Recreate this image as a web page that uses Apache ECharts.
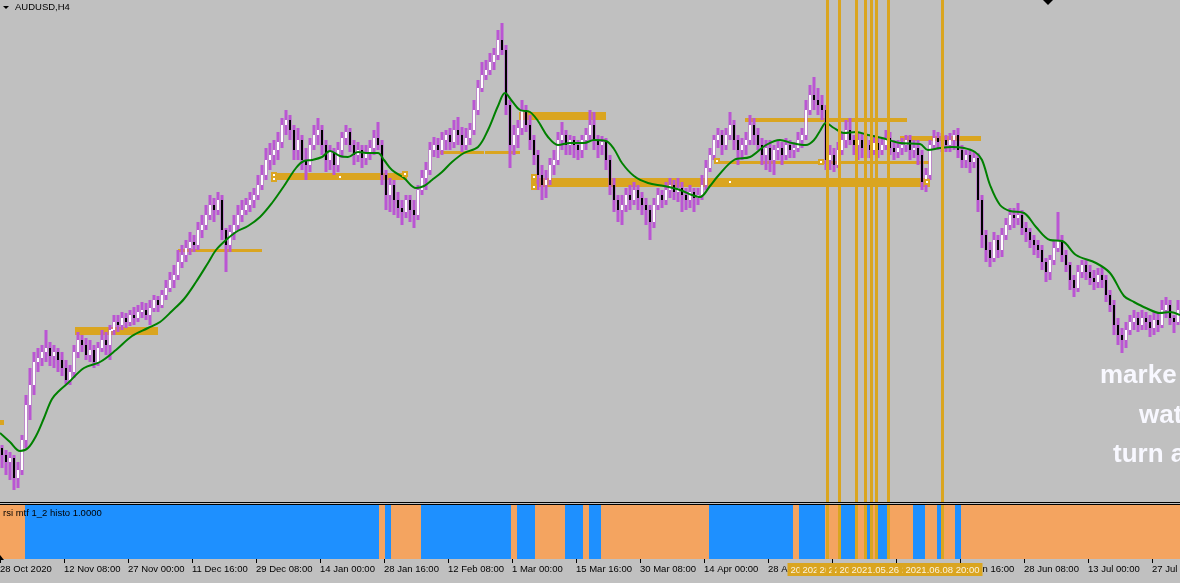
<!DOCTYPE html>
<html><head><meta charset="utf-8">
<script src="https://cdn.jsdelivr.net/npm/echarts/dist/echarts.min.js"></script>
<style>html,body{margin:0;padding:0;background:#C0C0C0;overflow:hidden;}#c{width:1180px;height:583px;}</style>
</head><body><div id="c"></div>
<script>
// time axis labels, one every 64 H4 bars
const tickLabels = ["28 Oct 2020","12 Nov 08:00","27 Nov 00:00","11 Dec 16:00","29 Dec 08:00","14 Jan 00:00","28 Jan 16:00","12 Feb 08:00","1 Mar 00:00","15 Mar 16:00","30 Mar 08:00","14 Apr 00:00","28 Apr 16:00","13 May 08:00","28 May 00:00","11 Jun 16:00","28 Jun 08:00","13 Jul 00:00","27 Jul 16:00"];
const BARS_PER_LABEL = 64;

// AUDUSD candles, each = 4 H4 bars: [open, close, low, high] in 1/10000
const candles = [
[7104,7090,7064,7110],[7090,7076,7050,7100],[7076,7084,7040,7096],[7084,7044,7020,7090],[7044,7060,7024,7076],
[7060,7120,7050,7130],[7120,7190,7104,7210],[7190,7230,7160,7264],[7230,7276,7210,7296],[7276,7284,7256,7304],
[7284,7296,7268,7310],[7296,7304,7276,7340],[7304,7288,7268,7316],[7288,7296,7264,7310],[7296,7280,7256,7304],
[7280,7264,7248,7296],[7264,7240,7232,7280],[7240,7256,7230,7270],[7256,7296,7244,7310],[7296,7320,7284,7336],
[7320,7310,7296,7330],[7310,7290,7280,7324],[7290,7300,7276,7320],[7300,7276,7264,7310],[7276,7304,7268,7316],
[7304,7320,7296,7340],[7320,7310,7290,7336],[7310,7340,7280,7350],[7340,7356,7330,7370],[7356,7350,7336,7370],
[7350,7364,7340,7376],[7364,7356,7344,7374],[7356,7370,7348,7380],[7370,7364,7350,7386],[7364,7376,7356,7390],
[7376,7380,7364,7396],[7380,7370,7360,7394],[7370,7384,7350,7400],[7384,7400,7376,7410],[7400,7390,7376,7408],
[7390,7410,7384,7420],[7410,7424,7400,7440],[7424,7440,7416,7456],[7440,7450,7424,7470],[7450,7476,7440,7500],
[7476,7490,7464,7510],[7490,7504,7476,7520],[7504,7516,7490,7536],[7516,7510,7496,7530],[7510,7540,7500,7556],
[7540,7550,7524,7570],[7550,7570,7540,7590],[7570,7590,7560,7610],[7590,7580,7556,7604],[7580,7600,7570,7616],
[7600,7540,7520,7610],[7540,7510,7456,7544],[7510,7536,7496,7550],[7536,7550,7520,7570],[7550,7570,7540,7590],
[7570,7580,7556,7600],[7580,7590,7570,7604],[7590,7600,7576,7616],[7600,7610,7584,7624],[7610,7630,7600,7650],
[7630,7650,7620,7670],[7650,7680,7640,7704],[7680,7690,7660,7714],[7690,7700,7670,7720],[7700,7716,7680,7736],
[7716,7750,7704,7764],[7750,7760,7730,7780],[7760,7740,7720,7770],[7740,7700,7680,7750],[7700,7720,7680,7744],
[7720,7680,7660,7730],[7680,7670,7640,7704],[7670,7710,7656,7724],[7710,7730,7700,7750],[7730,7740,7710,7764],
[7740,7710,7690,7750],[7710,7680,7656,7720],[7680,7696,7660,7710],[7696,7670,7650,7704],[7670,7700,7656,7716],
[7700,7724,7684,7736],[7724,7736,7710,7750],[7736,7710,7696,7744],[7710,7690,7670,7720],[7690,7700,7676,7716],
[7700,7684,7664,7710],[7684,7696,7670,7710],[7696,7704,7680,7720],[7704,7724,7690,7740],[7724,7710,7700,7756],
[7710,7650,7630,7720],[7650,7610,7580,7660],[7610,7630,7576,7644],[7630,7600,7570,7640],[7600,7584,7564,7616],
[7584,7576,7550,7600],[7576,7600,7564,7610],[7600,7580,7556,7610],[7580,7570,7544,7600],[7570,7620,7560,7630],
[7620,7644,7610,7660],[7644,7660,7620,7676],[7660,7700,7650,7716],[7700,7710,7686,7726],[7710,7700,7684,7724],
[7700,7720,7690,7736],[7720,7730,7700,7740],[7730,7716,7700,7744],[7716,7740,7704,7760],[7740,7730,7710,7766],
[7730,7710,7696,7746],[7710,7724,7700,7744],[7724,7740,7710,7754],[7740,7780,7730,7800],[7780,7824,7770,7840],
[7824,7850,7816,7876],[7850,7860,7840,7880],[7860,7876,7850,7894],[7876,7890,7860,7904],[7890,7920,7880,7940],
[7920,7900,7890,7954],[7900,7790,7770,7910],[7790,7710,7664,7800],[7710,7730,7690,7750],[7730,7744,7704,7760],
[7744,7780,7730,7800],[7780,7750,7736,7790],[7750,7720,7700,7770],[7720,7690,7670,7730],[7690,7650,7620,7700],
[7650,7630,7600,7670],[7630,7640,7604,7660],[7640,7670,7630,7684],[7670,7680,7650,7700],[7680,7720,7670,7736],
[7720,7730,7700,7756],[7730,7710,7690,7740],[7710,7720,7690,7730],[7720,7710,7684,7728],[7710,7700,7680,7720],
[7700,7720,7684,7730],[7720,7730,7700,7744],[7730,7750,7720,7780],[7750,7720,7700,7776],[7720,7710,7684,7730],
[7710,7716,7690,7728],[7716,7680,7660,7724],[7680,7630,7610,7690],[7630,7600,7576,7644],[7600,7580,7556,7610],
[7580,7590,7550,7610],[7590,7610,7576,7624],[7610,7600,7580,7630],[7600,7620,7590,7636],[7620,7604,7580,7630],
[7604,7590,7570,7616],[7590,7580,7550,7604],[7580,7556,7520,7590],[7556,7590,7544,7604],[7590,7610,7580,7624],
[7610,7600,7584,7620],[7600,7620,7590,7636],[7620,7630,7604,7644],[7630,7616,7600,7640],[7616,7624,7596,7644],
[7624,7610,7576,7636],[7610,7600,7580,7624],[7600,7616,7584,7630],[7616,7604,7576,7624],[7604,7610,7590,7624],
[7610,7630,7600,7650],[7630,7664,7620,7680],[7664,7690,7656,7704],[7690,7720,7680,7730],[7720,7730,7704,7744],
[7730,7710,7690,7740],[7710,7730,7700,7744],[7730,7750,7720,7776],[7750,7720,7700,7760],[7720,7700,7670,7730],
[7700,7710,7680,7724],[7710,7720,7690,7736],[7720,7750,7710,7770],[7750,7730,7710,7764],[7730,7710,7700,7744],
[7710,7690,7670,7724],[7690,7704,7660,7720],[7704,7680,7656,7720],[7680,7700,7650,7710],[7700,7704,7680,7720],
[7704,7690,7670,7716],[7690,7710,7680,7724],[7710,7700,7684,7720],[7700,7704,7684,7716],[7704,7720,7696,7736],
[7720,7730,7704,7744],[7730,7780,7720,7800],[7780,7810,7770,7830],[7810,7800,7780,7846],[7800,7790,7770,7824],
[7790,7780,7760,7810],[7780,7680,7660,7790],[7680,7690,7660,7710],[7690,7670,7656,7704],[7670,7700,7664,7716],
[7700,7720,7690,7734],[7720,7740,7704,7760],[7740,7720,7710,7764],[7720,7710,7690,7730],[7710,7720,7680,7736],
[7720,7704,7684,7734],[7704,7710,7684,7730],[7710,7700,7684,7720],[7700,7714,7690,7730],[7714,7700,7684,7724],
[7700,7710,7690,7724],[7710,7724,7700,7740],[7724,7704,7690,7736],[7704,7696,7680,7720],[7696,7704,7684,7720],
[7704,7710,7690,7724],[7710,7720,7696,7730],[7720,7700,7680,7730],[7700,7704,7684,7720],[7704,7690,7670,7720],
[7690,7636,7620,7700],[7636,7650,7616,7664],[7650,7710,7640,7720],[7710,7724,7700,7740],[7724,7716,7700,7736],
[7716,7720,7696,7734],[7720,7710,7696,7730],[7710,7720,7696,7734],[7720,7730,7700,7740],[7730,7700,7684,7744],
[7700,7680,7664,7710],[7680,7690,7664,7700],[7690,7676,7654,7700],[7676,7684,7664,7696],[7684,7600,7576,7694],
[7600,7530,7504,7610],[7530,7500,7476,7540],[7500,7484,7466,7516],[7484,7520,7476,7536],[7520,7500,7484,7530],
[7500,7530,7486,7544],[7530,7550,7520,7564],[7550,7570,7540,7584],[7570,7564,7544,7584],[7564,7570,7550,7594],
[7570,7544,7530,7580],[7544,7536,7516,7556],[7536,7520,7504,7544],[7520,7510,7490,7530],[7510,7500,7484,7520],
[7500,7476,7460,7510],[7476,7456,7436,7484],[7456,7480,7440,7490],[7480,7504,7470,7520],[7504,7520,7496,7576],
[7520,7490,7476,7530],[7490,7470,7456,7500],[7470,7440,7420,7476],[7440,7424,7406,7450],[7424,7456,7416,7470],
[7456,7470,7444,7480],[7470,7456,7440,7480],[7456,7444,7430,7470],[7444,7436,7420,7460],[7436,7450,7424,7464],
[7450,7440,7424,7466],[7440,7410,7396,7450],[7410,7390,7376,7420],[7390,7350,7330,7400],[7350,7330,7310,7364],
[7330,7320,7294,7344],[7320,7340,7304,7356],[7340,7356,7330,7370],[7356,7364,7340,7380],[7364,7350,7336,7376],
[7350,7364,7340,7380],[7364,7356,7340,7376],[7356,7344,7326,7370],[7344,7360,7330,7376],[7360,7350,7336,7374],
[7350,7380,7344,7400],[7380,7390,7364,7406],[7390,7364,7350,7400],[7364,7356,7334,7370],[7356,7380,7350,7400]
];

// moving average: [H4 bar index, value in 1/10000]
const maPoints = [
[0,7134],[10,7116],[20,7098],[28,7104],[36,7128],[44,7164],[52,7202],[60,7220],[68,7234],[84,7264],[100,7276],
[116,7300],[132,7328],[148,7344],[160,7356],[172,7378],[184,7402],[196,7436],[208,7474],[216,7500],[226,7520],
[236,7536],[248,7548],[260,7566],[272,7594],[284,7628],[296,7664],[304,7678],[312,7680],[322,7686],[330,7698],
[340,7688],[348,7686],[358,7696],[368,7694],[378,7694],[384,7680],[392,7660],[404,7644],[416,7624],[424,7628],
[432,7640],[442,7656],[452,7676],[464,7694],[478,7706],[488,7740],[498,7788],[505,7814],[512,7798],[520,7780],
[530,7776],[538,7758],[548,7726],[558,7710],[570,7714],[584,7714],[594,7720],[606,7718],[614,7702],[622,7674],
[634,7648],[648,7634],[664,7628],[680,7620],[692,7610],[700,7606],[710,7628],[718,7648],[734,7680],[750,7686],
[766,7710],[780,7720],[792,7714],[806,7710],[814,7720],[820,7738],[826,7754],[834,7744],[844,7734],[856,7736],
[868,7730],[882,7724],[900,7714],[920,7712],[928,7700],[940,7704],[952,7706],[964,7704],[975,7696],[982,7680],
[990,7630],[1000,7590],[1010,7578],[1024,7574],[1036,7546],[1050,7520],[1062,7518],[1076,7490],[1096,7474],
[1110,7454],[1124,7408],[1134,7396],[1146,7384],[1160,7374],[1170,7376],[1180,7370]
];

// price zones: [startBar, endBar, upper, lower] in 1/10000
const zones = [
[0,4,7160,7150],[75,158,7346,7330],[178,262,7502,7496],[272,407,7654,7640],[440,484,7698,7692],[485,520,7698,7692],
[519,606,7776,7760],[531,930,7644,7626],[745,907,7764,7756],[715,930,7678,7672],[900,981,7728,7718]
];
// zone anchor handles and marker dots: [bar, value]
const anchorBoxes = [[274,7650],[274,7642],[405,7652],[534,7646],[534,7626],[717,7678],[821,7676],[927,7636]];
const markerDots = [[340,7646],[730,7636],[112,7340]];

// vertical lines
const vlineBars = [827.5,839.5,856.5,865.5,871.5,876.5,888.5,942.5];
const vlineLabels = ["2021.05.12 16:00","2021.05.14 16:00","2021.05.19 12:00","2021.05.21 00:00","2021.05.24 00:00","2021.05.24 20:00","2021.05.26 20:00","2021.06.08 20:00"];

// rsi mtf histogram runs: [startBar, endBar, state] 1 = up(blue), 0 = down(orange)
const rsiSegments = [
[0,25,0],[25,379,1],[379,385,0],[385,391,1],[391,421,0],[421,511,1],[511,517,0],[517,535,1],[535,565,0],
[565,583,1],[583,589,0],[589,601,1],[601,709,0],[709,793,1],[793,799,0],[799,825,1],[825,841,0],[841,857,1],
[857,867,0],[867,872,1],[872,878,0],[878,888,1],[888,913,0],[913,925,1],[925,937,0],[937,942,1],[942,955,0],
[955,961,1],[961,1180,0]
];

const FONT = '"Liberation Sans", Arial, sans-serif';
const chart = echarts.init(document.getElementById('c'), null, {renderer:'canvas'});

const candleData = candles.map((d,i)=>[4*i+2, d[0]/1e4, d[1]/1e4, d[2]/1e4, d[3]/1e4]);
const tickValues = tickLabels.map((_,i)=>i*BARS_PER_LABEL);

function renderCandle(params, api){
  const x = api.value(0), o = api.value(1), c = api.value(2), l = api.value(3), h = api.value(4);
  const pl = api.coord([x,l]), ph = api.coord([x,h]), po = api.coord([x,o]), pc = api.coord([x,c]);
  const cx = pl[0];
  const top = Math.min(po[1],pc[1]), bot = Math.max(po[1],pc[1]);
  return {type:'group', children:[
    {type:'rect', shape:{x:cx-1.5, y:ph[1], width:3, height:pl[1]-ph[1]}, style:{fill:'#BA55D3'}},
    {type:'rect', shape:{x:cx-1, y:top, width:2, height:Math.max(1,bot-top)}, style:{fill: c<o ? '#000000' : '#FFFFFF'}}
  ]};
}

const option = {
  backgroundColor:'#C0C0C0',
  animation:false,
  grid:[
    {left:0, right:0, top:0, height:502, containLabel:false, outerBoundsMode:'none'},
    {left:0, right:0, top:505, height:54, containLabel:false, outerBoundsMode:'none'}
  ],
  xAxis:[
    {gridIndex:0, type:'value', min:0, max:1180, show:false},
    {gridIndex:1, type:'value', min:0, max:1180,
     axisLine:{show:false}, splitLine:{show:false},
     axisTick:{show:true, length:4, lineStyle:{color:'#000'}, customValues:tickValues},
     axisLabel:{show:true, align:'left', margin:5, color:'#000', fontSize:9.5, fontFamily:FONT,
       customValues:tickValues, hideOverlap:false,
       formatter:(v)=> tickLabels[Math.round(v/BARS_PER_LABEL)] || ''}}
  ],
  yAxis:[
    {gridIndex:0, type:'value', min:0.6996, max:0.8, show:false},
    {gridIndex:1, type:'value', min:0, max:1, show:false}
  ],
  series:[
    {type:'custom', xAxisIndex:1, yAxisIndex:1, z:2, data:rsiSegments,
     encode:{x:[0,1], y:2},
     renderItem:(params, api)=>{
       const cs = params.coordSys;
       const a = api.coord([api.value(0),0])[0], b = api.coord([api.value(1),0])[0];
       return {type:'rect', shape:{x:a, y:cs.y, width:b-a, height:cs.height},
               style:{fill: api.value(2)===1 ? '#1E90FF' : '#F4A460'}};
     }},
    {type:'custom', xAxisIndex:0, yAxisIndex:0, z:2, data:zones.map(z=>[z[0],z[1],z[2]/1e4,z[3]/1e4]),
     encode:{x:[0,1], y:[2,3]},
     renderItem:(params, api)=>{
       const p1 = api.coord([api.value(0), api.value(2)]), p2 = api.coord([api.value(1), api.value(3)]);
       return {type:'rect', shape:{x:p1[0], y:p1[1], width:p2[0]-p1[0], height:p2[1]-p1[1]}, style:{fill:'#DAA520'}};
     }},
    {type:'custom', xAxisIndex:0, yAxisIndex:0, z:3, data:candleData,
     encode:{x:0, y:[1,2,3,4]}, renderItem:renderCandle},
    {type:'line', xAxisIndex:0, yAxisIndex:0, z:4, data:maPoints.map(p=>[p[0],p[1]/1e4]),
     smooth:0.35, showSymbol:false, symbol:'none', lineStyle:{color:'#008000', width:2}},
    {type:'custom', xAxisIndex:0, yAxisIndex:0, z:5, data:anchorBoxes.map(p=>[p[0],p[1]/1e4]),
     encode:{x:0,y:1},
     renderItem:(params, api)=>{
       const p = api.coord([api.value(0), api.value(1)]);
       return {type:'group', children:[
         {type:'rect', shape:{x:p[0]-3, y:p[1]-3, width:6, height:6}, style:{fill:'#DAA520'}},
         {type:'rect', shape:{x:p[0]-1, y:p[1]-1, width:2, height:2}, style:{fill:'#FFFFFF'}}
       ]};
     }},
    {type:'custom', xAxisIndex:0, yAxisIndex:0, z:5, data:markerDots.map(p=>[p[0],p[1]/1e4]),
     encode:{x:0,y:1},
     renderItem:(params, api)=>{
       const p = api.coord([api.value(0), api.value(1)]);
       return {type:'rect', shape:{x:p[0]-1, y:p[1]-1, width:2, height:2}, style:{fill:'#FFFFFF'}};
     }},
    {type:'custom', xAxisIndex:0, yAxisIndex:0, z:6, data:vlineBars.map(b=>[b,0.75]),
     encode:{x:0,y:1},
     renderItem:(params, api)=>{
       const cs = params.coordSys; const x = api.coord([api.value(0),0.75])[0];
       return {type:'rect', shape:{x:x-1.5, y:cs.y, width:3, height:cs.height}, style:{fill:'#DAA520'}};
     }},
    {type:'custom', xAxisIndex:1, yAxisIndex:1, z:6, data:vlineBars.map(b=>[b,0.5]),
     encode:{x:0,y:1},
     renderItem:(params, api)=>{
       const cs = params.coordSys; const x = api.coord([api.value(0),0.5])[0];
       return {type:'rect', shape:{x:x-1.5, y:cs.y, width:3, height:cs.height}, style:{fill:'#DAA520'}};
     }},
    {type:'custom', xAxisIndex:1, yAxisIndex:1, z:10, clip:false, data:vlineBars.map(b=>[b,0.5]),
     encode:{x:0,y:1},
     renderItem:(params, api)=>{
       const cs = params.coordSys; const x = api.coord([api.value(0),0.5])[0];
       const y0 = cs.y + cs.height + 4;
       return {type:'group', children:[
         {type:'rect', shape:{x:x-40, y:y0, width:80, height:13}, style:{fill:'#DAA520'}},
         {type:'text', style:{text:vlineLabels[params.dataIndex], x:x, y:y0+7, align:'center', verticalAlign:'middle',
           fill:'#FBF3DC', font:'9.5px ' + FONT}}
       ]};
     }}
  ],
  graphic:[
    {type:'polygon', z:100, shape:{points:[[3,6],[9,6],[6,9]]}, style:{fill:'#000'}},
    {type:'text', z:100, style:{text:'AUDUSD,H4', x:15, y:7.5, verticalAlign:'middle', fill:'#000', font:'9.5px ' + FONT}},
    {type:'polygon', z:100, shape:{points:[[1043,0],[1053,0],[1048,5]]}, style:{fill:'#000'}},
    {type:'rect', z:100, shape:{x:0, y:502, width:1180, height:1}, style:{fill:'#000'}},
    {type:'rect', z:100, shape:{x:0, y:504, width:1180, height:1}, style:{fill:'#000'}},
    {type:'text', z:100, style:{text:'rsi mtf 1_2 histo 1.0000', x:3, y:513.5, verticalAlign:'middle', fill:'#000', font:'9.5px ' + FONT}},
    {type:'polygon', z:100, shape:{points:[[0,555],[0,560],[4,560]]}, style:{fill:'#000'}},
    {type:'text', z:100, style:{text:'marke', x:1100, y:376, verticalAlign:'middle', fill:'#F8F8FF', font:'bold 26px ' + FONT}},
    {type:'text', z:100, style:{text:'wat', x:1139, y:416, verticalAlign:'middle', fill:'#F8F8FF', font:'bold 26px ' + FONT}},
    {type:'text', z:100, style:{text:'turn a', x:1113, y:455, verticalAlign:'middle', fill:'#F8F8FF', font:'bold 26px ' + FONT}}
  ]
};
chart.setOption(option);
</script></body></html>
